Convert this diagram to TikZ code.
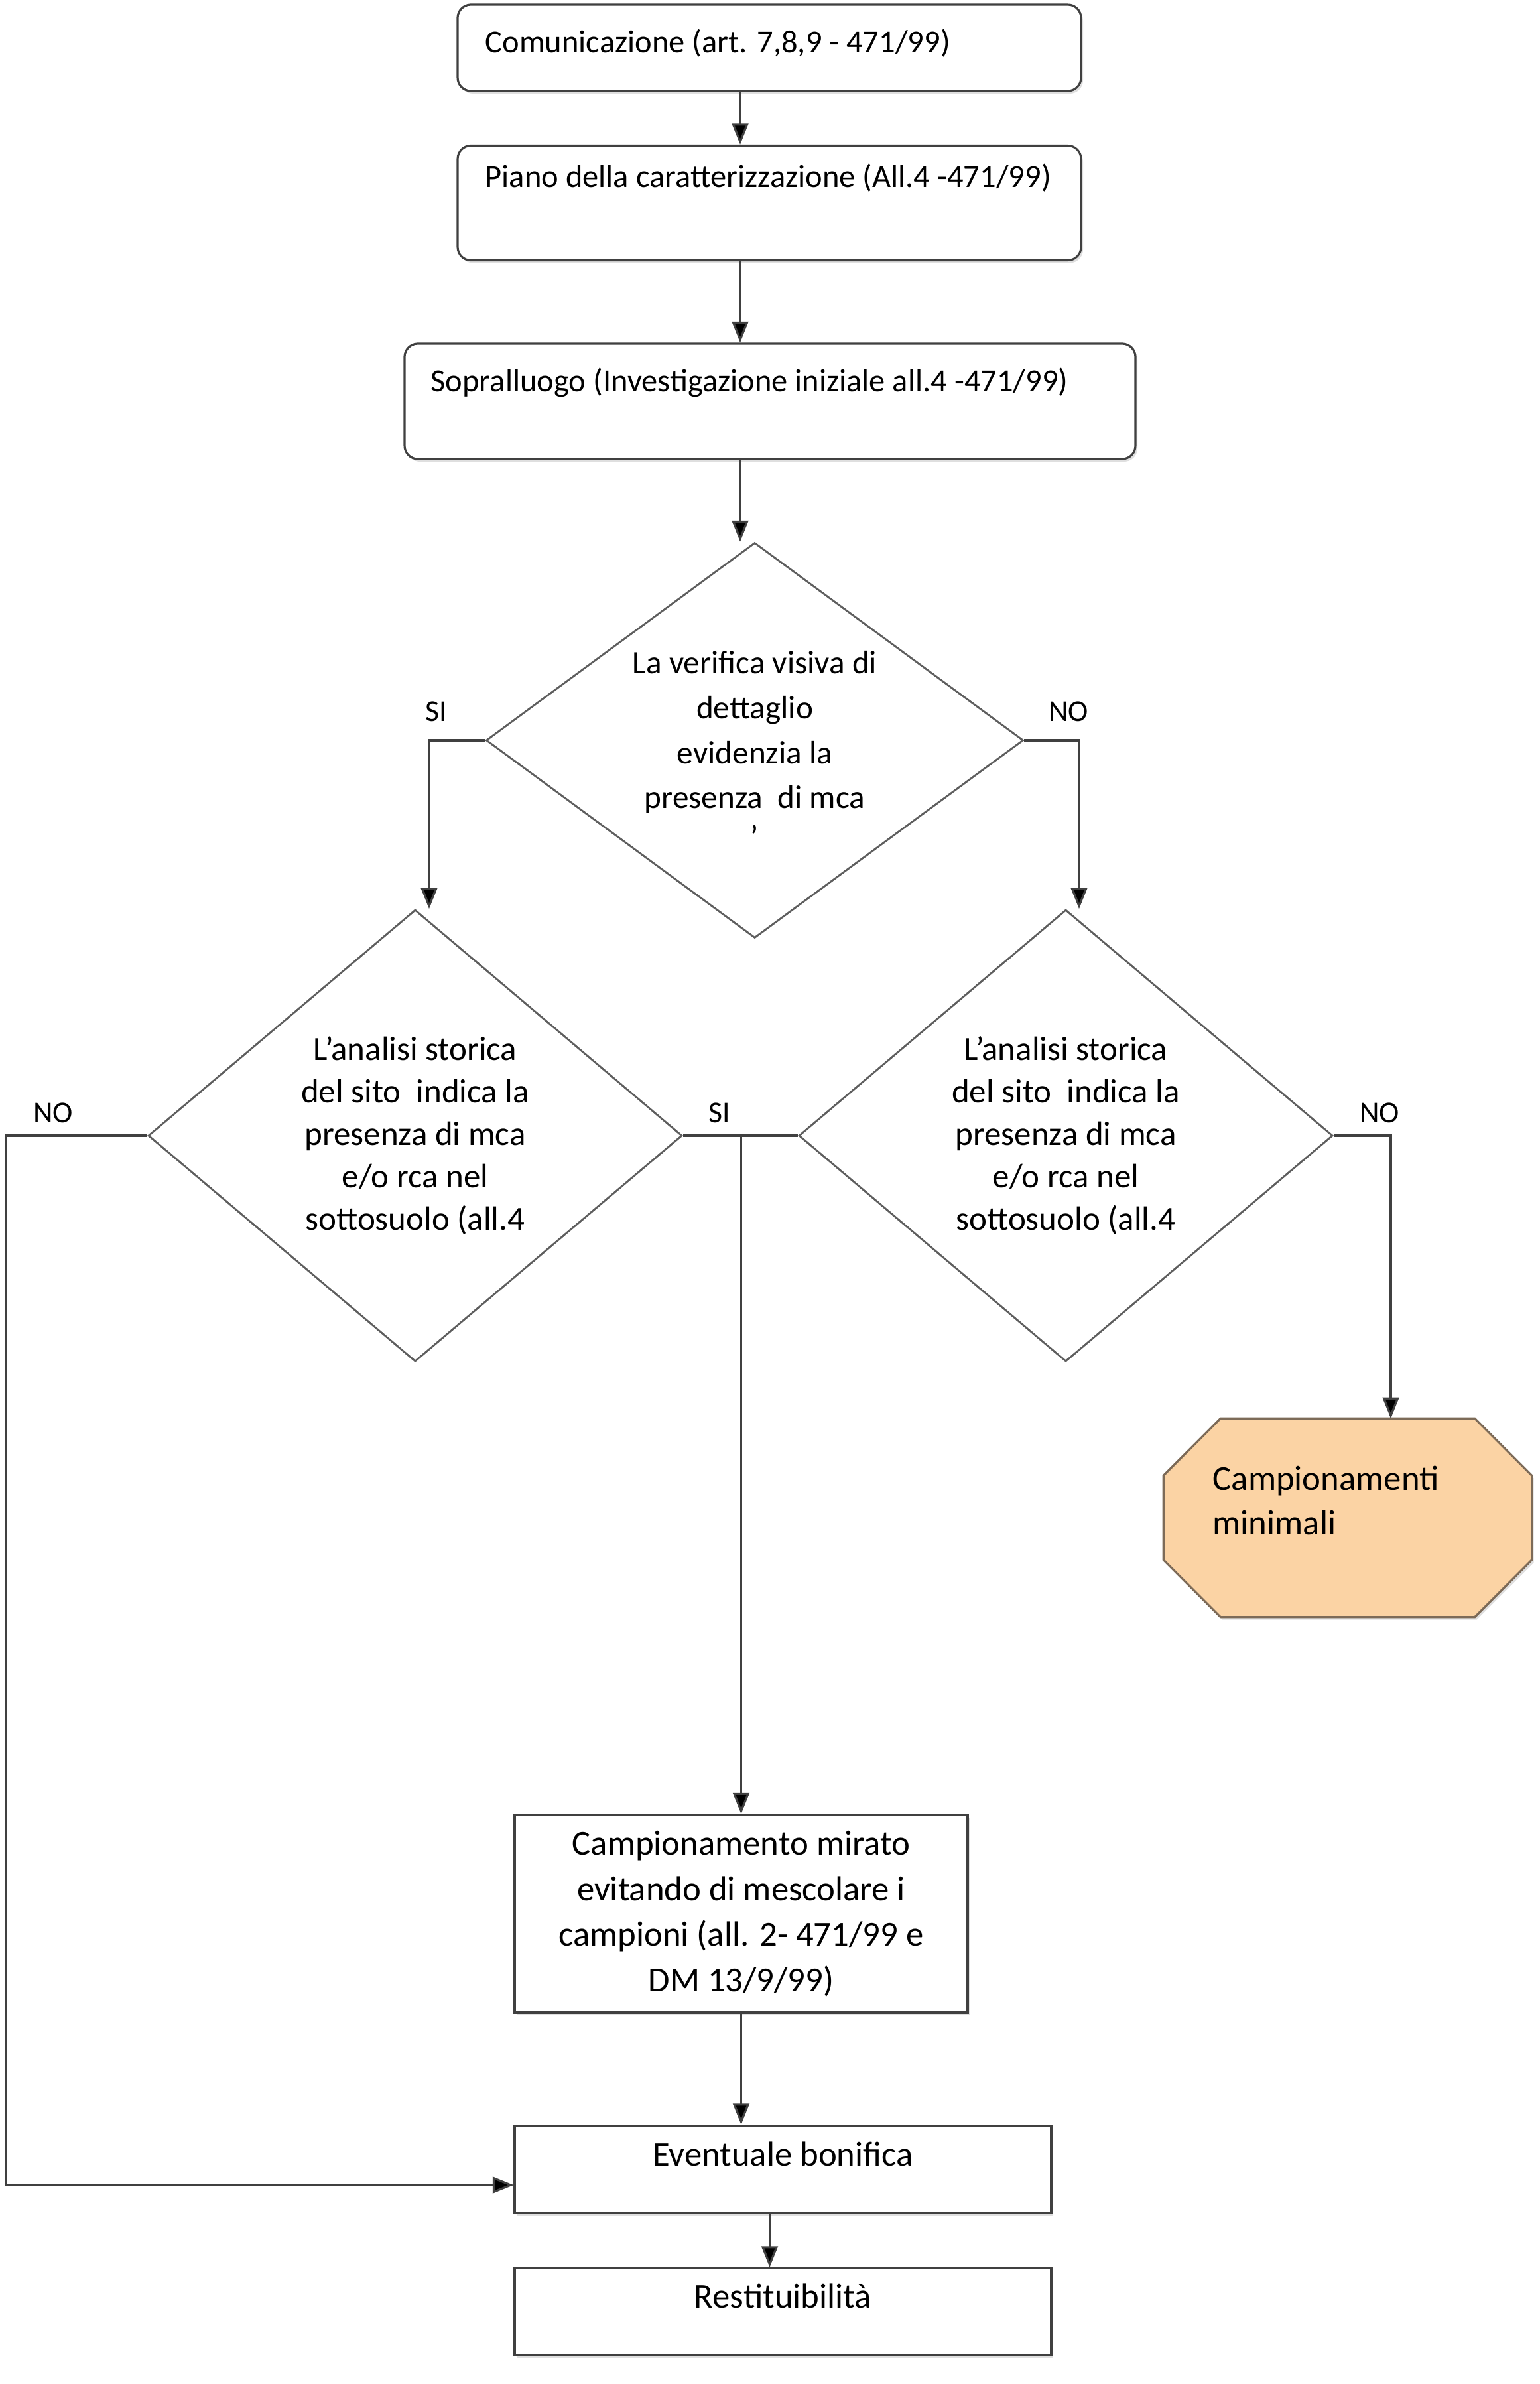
\documentclass[tikz,border=0pt]{standalone}
\usepackage{fontspec}
\setmainfont{Carlito}
\usetikzlibrary{arrows.meta, shapes.geometric, shadows, backgrounds}
\definecolor{frame}{HTML}{404040}
\definecolor{rhomb}{HTML}{5E5E5E}
\definecolor{peach}{HTML}{FBD3A4}
\definecolor{peachline}{HTML}{7D6B58}

\begin{document}
\begin{tikzpicture}[
  roundbox/.style={draw=frame, line width=0.9pt, rounded corners=0.2cm, fill=white,
                   drop shadow={shadow xshift=0.03cm, shadow yshift=-0.04cm, opacity=0.25}},
  plainbox/.style={draw=frame, line width=0.9pt, fill=white, align=center,
                   font=\fontsize{15}{19.6}\selectfont,
                   drop shadow={shadow xshift=0.03cm, shadow yshift=-0.04cm, opacity=0.25}},
  decision/.style={diamond, draw=rhomb, line width=0.8pt, inner sep=0pt},
  question/.style={inner sep=0pt, align=center},
  boxtext/.style={anchor=west, inner sep=0pt, font=\fontsize{13.8}{16}\selectfont},
  answer/.style={inner sep=0pt, font=\fontsize{13}{16}\selectfont},
  arr/.style={draw=frame, line width=0.9pt, -{Triangle[length=9pt, width=7pt, fill=black]}},
  link/.style={draw=frame, line width=0.9pt},
]
\useasboundingbox (0,0) rectangle (23.22,-35.94);

% upper chain
\node[roundbox, minimum width=9.40cm, minimum height=1.30cm] (b1) at (11.60,-0.72) {};
\node[boxtext] (t1) at (7.31,-0.65) {Comunicazione (art. 7,8,9 - 471/99)};
\node[roundbox, minimum width=9.40cm, minimum height=1.73cm] (b2) at (11.60,-3.06) {};
\node[boxtext] (t2) at (7.31,-2.68) {Piano della caratterizzazione (All.4 -471/99)};
\node[roundbox, minimum width=11.02cm, minimum height=1.74cm] (b3) at (11.61,-6.05) {};
\node[boxtext] (t3) at (6.49,-5.77) {Sopralluogo (Investigazione iniziale all.4 -471/99)};

\coordinate (col) at (11.16,0);

% decisions
\node[decision, minimum width=8.10cm, minimum height=5.96cm] (d1) at (11.38,-11.16) {};
\node[question, font=\fontsize{14}{14}\selectfont] (q1) at (11.38,-11.30)
  {La verifica visiva di\\[5.3pt]dettaglio\\[5.3pt]evidenzia la\\[5.3pt]presenza~~di mca\\[3pt]’};
\node[decision, minimum width=8.05cm, minimum height=6.81cm] (d2) at (6.26,-17.12) {};
\node[question, font=\fontsize{14.5}{18.2}\selectfont] (q2) at (6.26,-17.12)
  {L’analisi storica\\del sito~~indica la\\presenza di mca\\e/o rca nel\\sottosuolo (all.4};
\node[decision, minimum width=8.05cm, minimum height=6.81cm] (d3) at (16.07,-17.12) {};
\node[question, font=\fontsize{14.5}{18.2}\selectfont] (q3) at (16.07,-17.12)
  {L’analisi storica\\del sito~~indica la\\presenza di mca\\e/o rca nel\\sottosuolo (all.4};

% outcomes
\node[minimum width=5.54cm, minimum height=2.98cm] (oct) at (20.32,-22.88) {};
\node[anchor=west, inner sep=0pt, align=left, font=\fontsize{15}{19}\selectfont] (otx) at (18.28,-22.62)
  {Campionamenti\\minimali};
\begin{pgfonlayer}{background}
\draw[draw=peachline, fill=peach, line width=0.9pt,
      drop shadow={shadow xshift=0.03cm, shadow yshift=-0.04cm, opacity=0.25}]
  ([xshift=0.86cm]oct.north west) -- ([xshift=-0.86cm]oct.north east)
  -- ([yshift=-0.86cm]oct.north east) -- ([yshift=0.86cm]oct.south east)
  -- ([xshift=-0.86cm]oct.south east) -- ([xshift=0.86cm]oct.south west)
  -- ([yshift=0.86cm]oct.south west) -- ([yshift=-0.86cm]oct.north west) -- cycle;
\end{pgfonlayer}
\node[plainbox, minimum width=6.83cm, minimum height=2.98cm] (cm) at (11.175,-28.85)
  {Campionamento mirato\\evitando di mescolare i\\campioni (all. 2- 471/99 e\\DM 13/9/99)};
\node[plainbox, minimum width=8.09cm, minimum height=1.31cm, text depth=0.46cm] (ev) at (11.805,-32.70)
  {Eventuale bonifica};
\node[plainbox, minimum width=8.09cm, minimum height=1.31cm, text depth=0.48cm] (rs) at (11.805,-34.85)
  {Restituibilità};

% answers
\node[answer] (si1) at (6.58,-10.73) {SI};
\node[answer] (no1) at (16.11,-10.73) {NO};
\node[answer] (no2) at (0.80,-16.78) {NO};
\node[answer] (si2) at (10.85,-16.78) {SI};
\node[answer] (no3) at (20.80,-16.78) {NO};

\coordinate (lft) at (0.09,-17.12);

% connectors
\draw[arr] (b1.south -| col) -- (b2.north -| col);
\draw[arr] (b2.south -| col) -- (b3.north -| col);
\draw[arr] (b3.south -| col) -- (d1.north -| col);
\draw[arr] (d1.west) -| ([xshift=0.21cm]d2.north);
\draw[arr] (d1.east) -| ([xshift=0.20cm]d3.north);
\draw[link] (d2.east) -- (d3.west);
\draw[arr] (d2.east -| cm.north) -- (cm.north);
\draw[arr] (d3.east) -| ([xshift=0.65cm]oct.north);
\draw[arr] (d2.west) -- (lft) |- ([yshift=-0.24cm]ev.west);
\draw[arr] (cm.south) -- (cm.south |- ev.north);
\draw[arr] ([xshift=-0.20cm]ev.south) -- ([xshift=-0.20cm]rs.north);

\end{tikzpicture}
\end{document}
